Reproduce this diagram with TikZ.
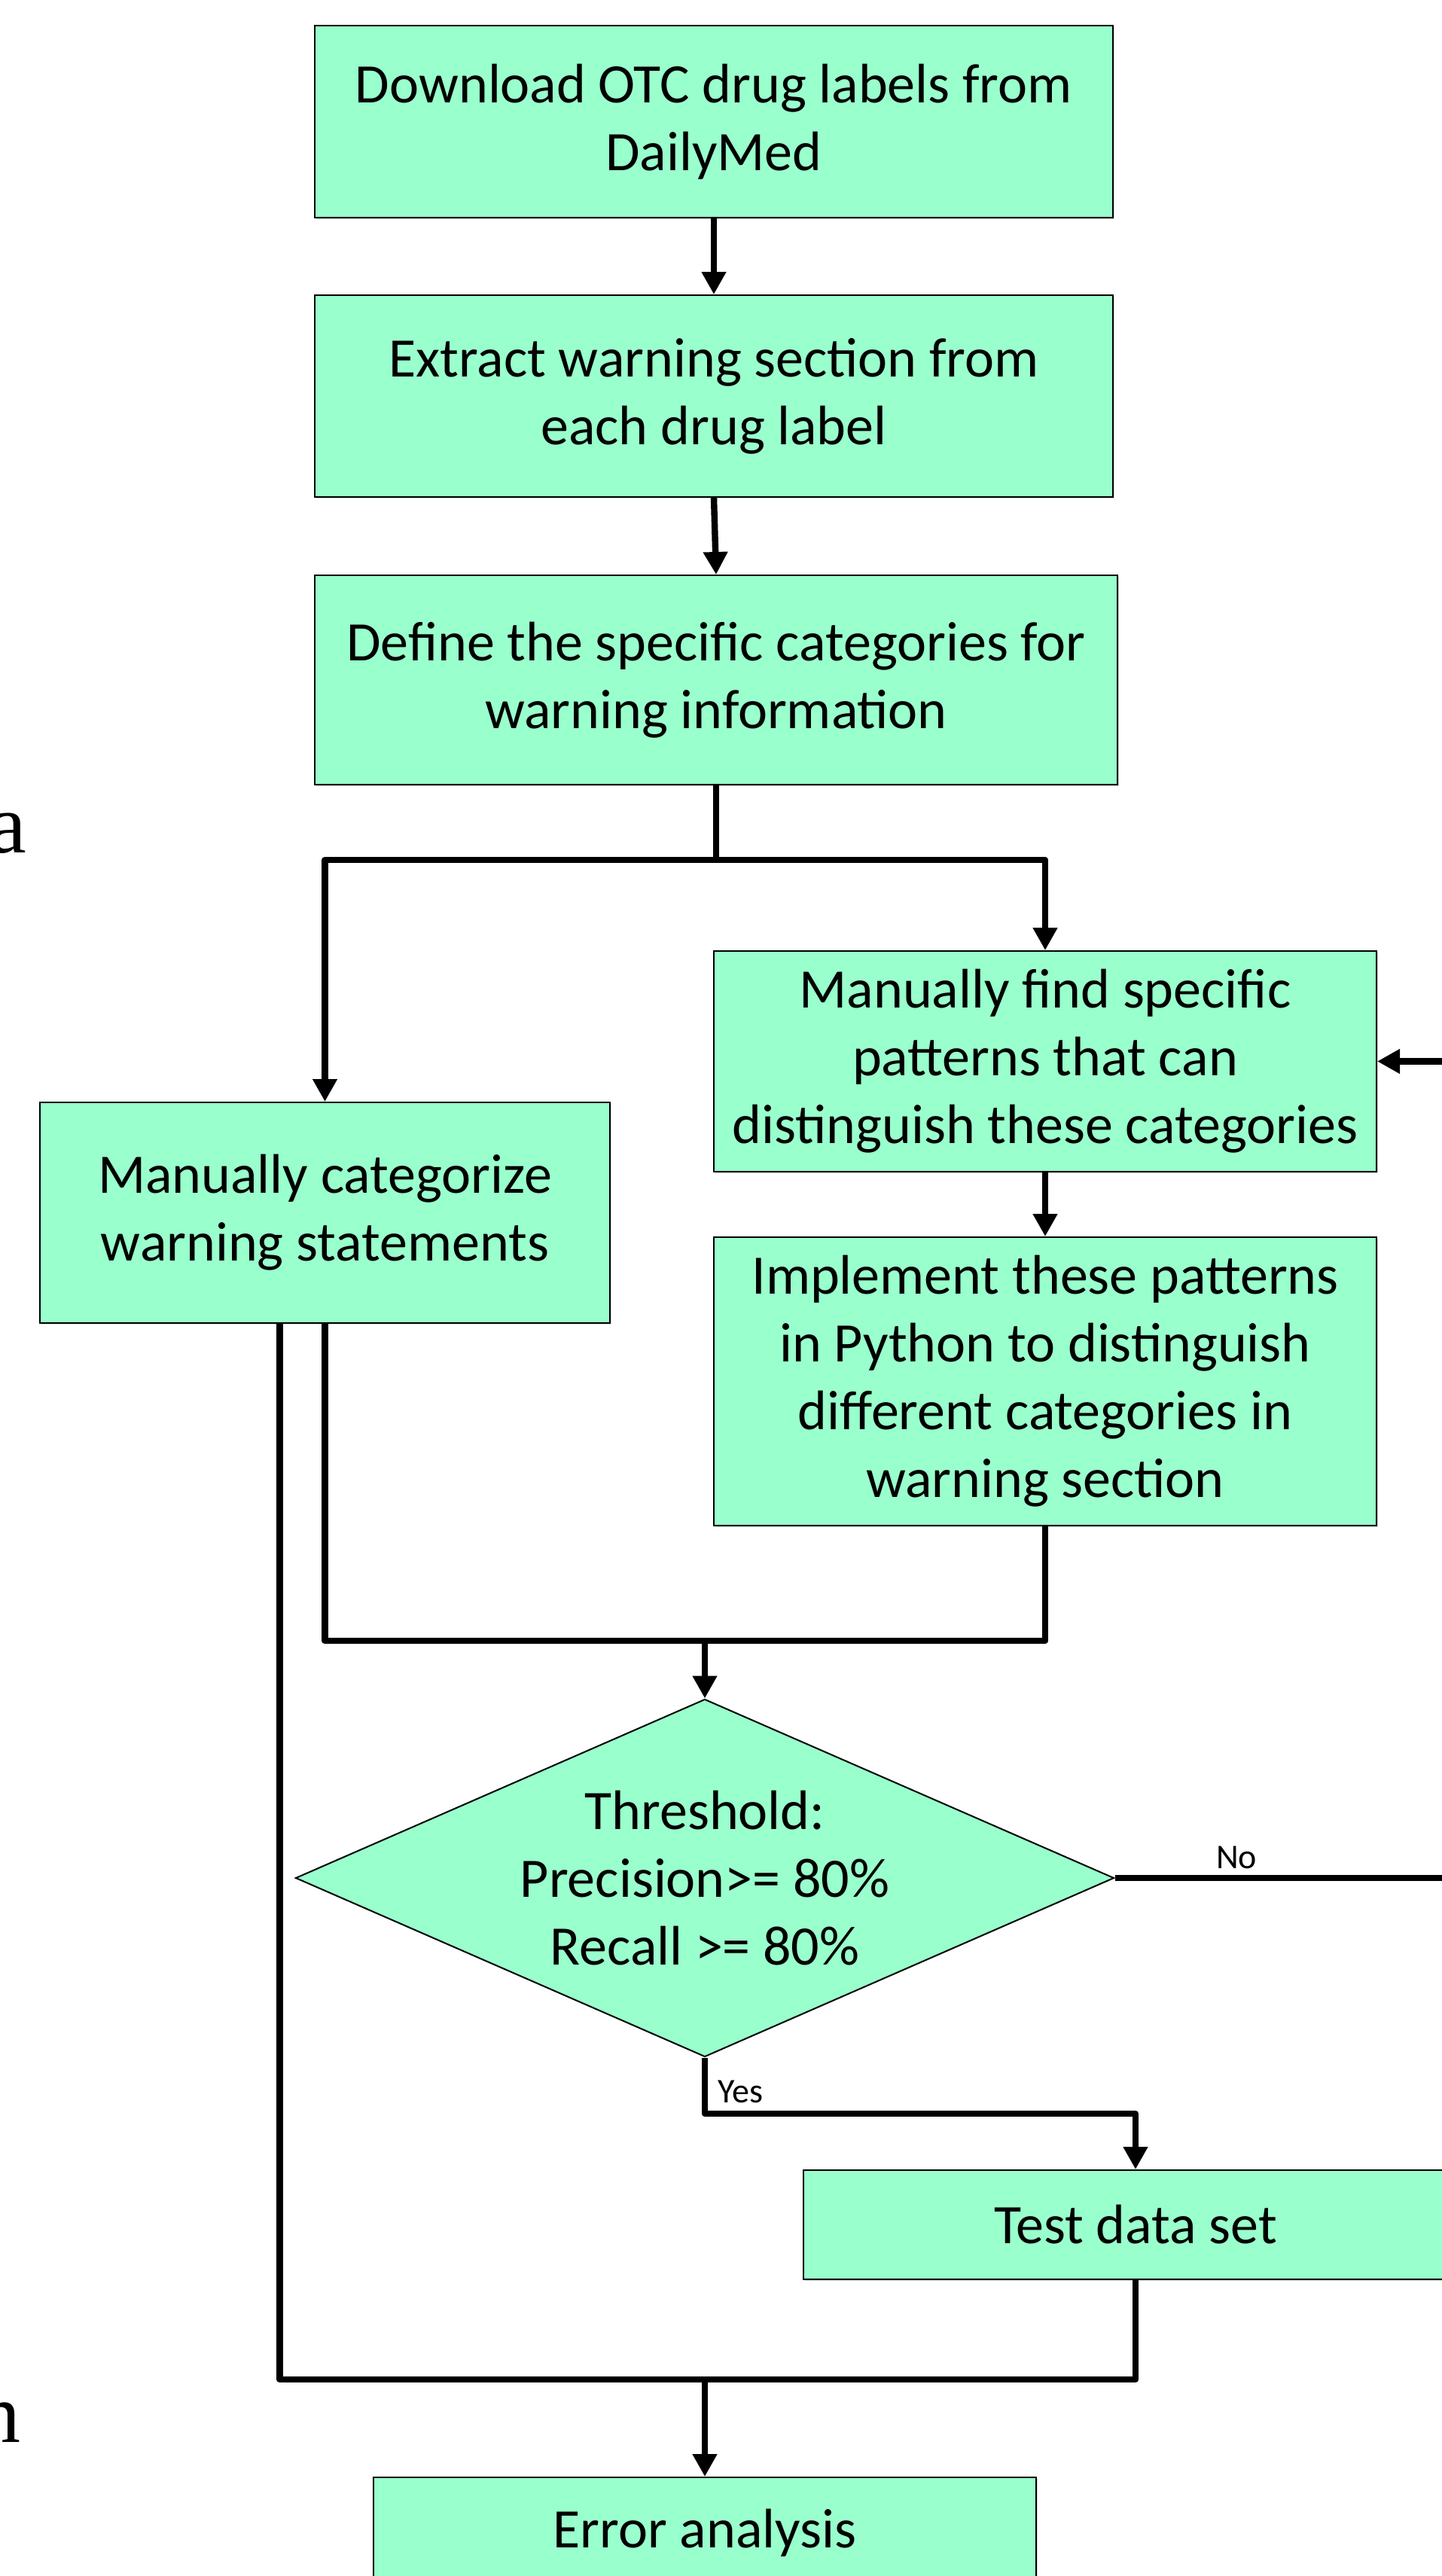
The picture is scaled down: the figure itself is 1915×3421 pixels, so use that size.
\documentclass[tikz,border=0pt]{standalone}
\usepackage{fontspec}
\setmainfont{Carlito}
\newfontfamily\bodyserif{Liberation Serif}
\usepackage{tikz}
\usetikzlibrary{shapes.geometric, arrows.meta, shadows}
\definecolor{mint}{RGB}{153,255,204}
\tikzstyle{process} = [rectangle, draw=black, line width=1pt, fill=mint, text centered, align=center, inner sep=0pt, font=\fontsize{37}{45}\selectfont, drop shadow={shadow xshift=0.8pt, shadow yshift=-1.2pt, opacity=0.35}]
\tikzstyle{decision} = [diamond, aspect=2.29, draw=black, line width=1pt, fill=mint, text centered, align=center, inner sep=0pt, font=\fontsize{37}{45}\selectfont, minimum width=543.5pt, minimum height=237.5pt]
\tikzstyle{connector} = [line width=4.2pt, line join=round]
\tikzstyle{arrow} = [connector, -{Triangle[length=15pt,width=15.5pt]}]
\tikzstyle{branch} = [inner sep=0pt, font=\fontsize{23}{28}\selectfont]
\tikzstyle{fragment} = [anchor=base west, inner sep=0pt, font=\bodyserif\fontsize{56}{60}\selectfont]

\begin{document}
\begin{tikzpicture}[x=0.5pt, y=-0.5pt]
        \useasboundingbox (0,0) rectangle (1915,3421);
        \begin{scope}
        \clip (0,0) rectangle (1915,3421);

        \node (download) [process, minimum width=530pt, minimum height=127.5pt] at (948,161.5) {Download OTC drug labels from\\DailyMed};
        \node (extract) [process, minimum width=530pt, minimum height=134pt] at (948,526) {Extract warning section from\\each drug label};
        \node (define) [process, minimum width=533pt, minimum height=139pt] at (951,903) {Define the specific categories for\\warning information};
        \node (find) [process, minimum width=440pt, minimum height=146.5pt] at (1388,1409.5) {Manually find specific\\patterns that can\\distinguish these categories};
        \node (categorize) [process, minimum width=378.5pt, minimum height=146.5pt] at (431.5,1610.5) {Manually categorize\\warning statements};
        \node (implement) [process, minimum width=440pt, minimum height=191.5pt] at (1388,1834.5) {Implement these patterns\\in Python to distinguish\\different categories in\\warning section};
        \node (threshold) [decision] at (936,2494) {Threshold:\\Precision>= 80\%\\Recall >= 80\%};
        \node (testset) [process, minimum width=441pt, minimum height=72.5pt] at (1508,2954.5) {Test data set};
        \node (error) [process, minimum width=440pt, minimum height=73.5pt] at (936,3363.5) {Error analysis};

        \node (fraga) [fragment] at (-15,1132) {a};
        \node (fragn) [fragment] at (-29,3243) {n};

        \coordinate (split) at (951,1142);
        \coordinate (joinup) at (936,2179);
        \coordinate (yesbend) at (936,2807);
        \coordinate (noturn) at (1960,2494);
        \coordinate (joindown) at (936,3160);

        \draw [arrow] (download.south) -- (extract.north);
        \draw [arrow] (extract.south) -- (define.north);
        \draw [connector] (define.south) -- (split);
        \draw [arrow] (split) -| (categorize.north);
        \draw [arrow] (split) -| (find.north);
        \draw [arrow] (find.south) -- (implement.north);
        \draw [connector] (categorize.south) |- (joinup);
        \draw [connector] (implement.south) |- (joinup);
        \draw [arrow] (joinup) -- (threshold.north);
        \draw [arrow] (threshold.east) -- (noturn) |- (find.east);
        \draw [arrow] (threshold.south) -- (yesbend) -| (testset.north);
        \draw [connector] ([xshift=-30pt]categorize.south) |- (joindown);
        \draw [connector] (testset.south) |- (joindown);
        \draw [arrow] (joindown) -- (error.north);

        \node (no) [branch] at (1642,2467) {No};
        \node (yes) [branch, anchor=west] at (953,2778) {Yes};
        \end{scope}
\end{tikzpicture}
\end{document}
